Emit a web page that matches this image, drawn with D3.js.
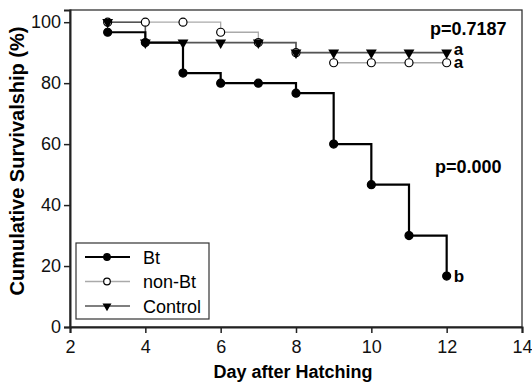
<!DOCTYPE html>
<html>
<head>
<meta charset="utf-8">
<script src="https://cdn.jsdelivr.net/npm/d3@7"></script>
<style>
  body { margin: 0; background: #fff; }
  text { font-family: "Liberation Sans", Arial, sans-serif; }
</style>
</head>
<body>
<script>
/* Data */
const days = [3, 4, 5, 6, 7, 8, 9, 10, 11, 12]
const bt = [96.7, 93.3, 83.3, 80, 80, 76.7, 60, 46.7, 30, 16.7]
const nonBt = [100, 100, 100, 96.7, 93.3, 90, 86.7, 86.7, 86.7, 86.7]
const control = [100, 93.3, 93.3, 93.3, 93.3, 90, 90, 90, 90, 90]
const xTicks = [2, 4, 6, 8, 10, 12, 14]
const yTicks = [0, 20, 40, 60, 80, 100]

/* Define svg-size. */
const width = 532
const height = 382

const svg = d3.select("body")
  .append("svg")
  .attr("width", width)
  .attr("height", height)

/* Scales */
const x = d3.scaleLinear().domain([2, 14]).range([70, 522])
const y = d3.scaleLinear().domain([0, 104]).range([327, 10])

/* Frame */
svg.append("rect")
  .attr("x", x(2)).attr("y", y(104))
  .attr("width", x(14) - x(2)).attr("height", y(0) - y(104))
  .attr("fill", "none").attr("stroke", "#333").attr("stroke-width", 1.3)

/* Axes */
const xAxis = svg.append("g")
  .attr("transform", `translate(0,${y(0)})`)
  .call(d3.axisBottom(x).tickValues(xTicks).tickSize(6).tickPadding(7))
const yAxis = svg.append("g")
  .attr("transform", `translate(${x(2)},0)`)
  .call(d3.axisLeft(y).tickValues(yTicks).tickSize(6).tickPadding(3))

;[xAxis, yAxis].forEach(a => {
  a.select(".domain").attr("stroke", "#222").attr("stroke-width", 2)
  a.selectAll(".tick line").attr("stroke", "#222").attr("stroke-width", 1.5)
  a.selectAll(".tick text")
    .attr("fill", "#111")
    .style("font-size", "18px")
    .style("font-family", "Liberation Sans, Arial, sans-serif")
})

/* Axis titles */
svg.append("text")
  .attr("x", 293).attr("y", 378)
  .attr("text-anchor", "middle")
  .style("font-size", "18px").style("font-weight", "bold")
  .text("Day after Hatching")

svg.append("text")
  .attr("transform", `translate(24,161) rotate(-90)`)
  .attr("text-anchor", "middle")
  .style("font-size", "20px").style("font-weight", "bold")
  .text("Cumulative Survivalship (%)")

/* Series */
const series = [
  { name: "non-Bt", values: nonBt, color: "#aaa", width: 1.3, marker: "open" },
  { name: "Control", values: control, color: "#555", width: 1.6, marker: "tri" },
  { name: "Bt", values: bt, color: "#000", width: 2.2, marker: "dot" }
]

const line = d3.line()
  .x(d => x(d[0]))
  .y(d => y(d[1]))
  .curve(d3.curveStepAfter)

series.forEach(s => {
  svg.append("path")
    .datum(days.map((d, i) => [d, s.values[i]]))
    .attr("d", line)
    .attr("fill", "none")
    .attr("stroke", s.color)
    .attr("stroke-width", s.width)
})

function drawMarker(g, type, cx, cy, r) {
  if (type == "tri") {
    g.append("path")
      .attr("d", d3.symbol().type(d3.symbolTriangle).size(r * r * 3.2)())
      .attr("transform", `translate(${cx},${cy}) rotate(180)`)
      .attr("fill", "#000")
  } else {
    g.append("circle")
      .attr("cx", cx).attr("cy", cy).attr("r", r)
      .attr("fill", type == "open" ? "#fff" : "#000")
      .attr("stroke", "#000").attr("stroke-width", 1.2)
  }
}

series.forEach(s => {
  const g = svg.append("g")
  days.forEach((d, i) => drawMarker(g, s.marker, x(d), y(s.values[i]), 4))
})

/* Annotations */
svg.append("text")
  .attr("x", 430).attr("y", 35)
  .style("font-size", "18px").style("font-weight", "bold")
  .text("p=0.7187")
svg.append("text")
  .attr("x", 435).attr("y", 173)
  .style("font-size", "18px").style("font-weight", "bold")
  .text("p=0.000")

const letters = [
  { text: "a", value: control[control.length - 1], dy: 2.5 },
  { text: "a", value: nonBt[nonBt.length - 1], dy: 5.5 },
  { text: "b", value: bt[bt.length - 1], dy: 6 }
]
letters.forEach(l => {
  svg.append("text")
    .attr("x", x(12) + 7).attr("y", y(l.value) + l.dy)
    .style("font-size", "17px").style("font-weight", "bold")
    .text(l.text)
})

/* Legend */
const legend = svg.append("g")
legend.append("rect")
  .attr("x", 76).attr("y", 243).attr("width", 133).attr("height", 76)
  .attr("fill", "#fff").attr("stroke", "#333").attr("stroke-width", 1.2)

const legendItems = [series[2], series[0], series[1]]
legendItems.forEach((s, i) => {
  const ly = 257 + i * 24.5
  legend.append("line")
    .attr("x1", 85).attr("x2", 130).attr("y1", ly).attr("y2", ly)
    .attr("stroke", s.color).attr("stroke-width", s.width)
  drawMarker(legend, s.marker, 107, ly, 3.3)
  legend.append("text")
    .attr("x", 143).attr("y", ly + 6.5)
    .style("font-size", "18px")
    .text(s.name)
})
</script>
</body>
</html>
